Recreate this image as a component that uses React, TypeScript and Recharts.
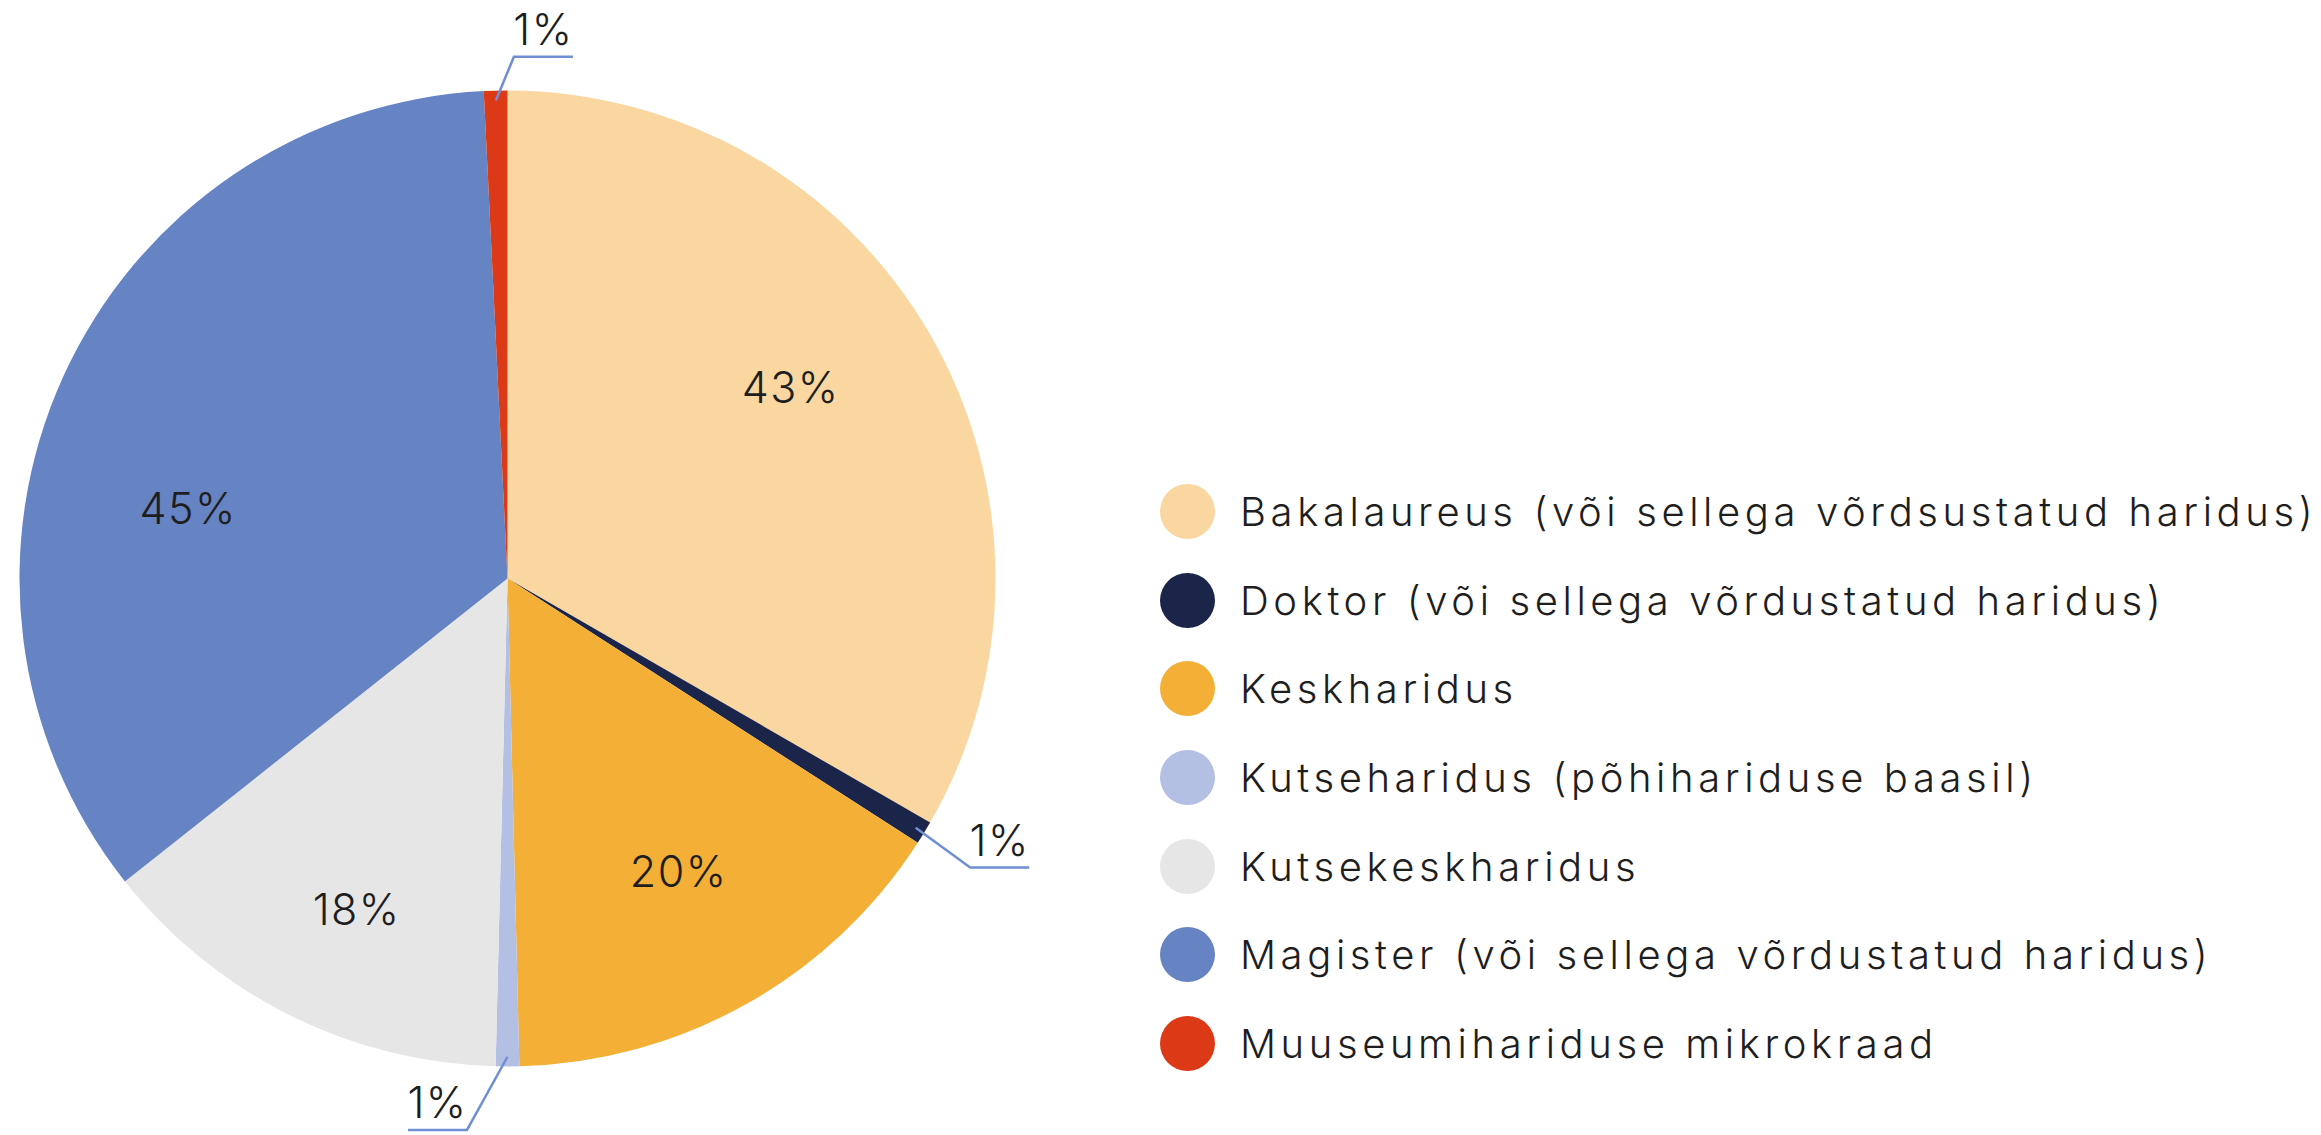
import { PieChart, Pie, Cell, Legend } from 'recharts';

const categories = [
  'Bakalaureus (või sellega võrdsustatud haridus)',
  'Doktor (või sellega võrdustatud haridus)',
  'Keskharidus',
  'Kutseharidus (põhihariduse baasil)',
  'Kutsekeskharidus',
  'Magister (või sellega võrdustatud haridus)',
  'Muuseumihariduse mikrokraad',
];
const shares = [43, 1, 20, 1, 18, 45, 1];
const shareLabels = ['43%', '1%', '20%', '1%', '18%', '45%', '1%'];

const colors = ['#fad6a1', '#1b2449', '#f4af37', '#b3bfe3', '#e6e6e6', '#6683c4', '#dc3916'];

// label placement per slice (turn = clockwise degrees from the slice middle)
const labelLayout: any[] = [
  { r: 0.7, turn: -4 },
  { outer: true, er: 1.118, turn: 0.6, side: 1 },
  { r: 0.695, turn: -1 },
  { outer: true, er: 1.133, turn: 4.2, side: -1 },
  { r: 0.745, turn: -2 },
  { r: 0.67, turn: -12 },
  { outer: true, er: 1.069, turn: 2.1, side: 1 },
];

const data = categories.map((name, i) => ({ name, value: shares[i], label: shareLabels[i] }));

const FONT = 'Inter, "Noto Sans", sans-serif';
const TEXT = '#1e1e1e';
const LEADER = '#6f8fd4';
const RAD = Math.PI / 180;

const renderLabel = (props: any) => {
  const { cx, cy, midAngle, outerRadius, index } = props;
  const lay = labelLayout[index];
  const pt = (r: number, a: number) => ({
    x: cx + r * Math.cos(-a * RAD),
    y: cy + r * Math.sin(-a * RAD),
  });
  if (!lay.outer) {
    const p = pt(outerRadius * lay.r, midAngle - lay.turn);
    return (
      <text x={p.x} y={p.y} textAnchor="middle" dominantBaseline="central"
        fontFamily={FONT} fontWeight={300} fontSize={43} letterSpacing={1.5} fill={TEXT}>
        {shareLabels[index]}
      </text>
    );
  }
  const s = pt(outerRadius * 0.98, midAngle);
  const e = pt(outerRadius * lay.er, midAngle - lay.turn);
  const endX = e.x + lay.side * 59;
  return (
    <g>
      <polyline points={`${s.x},${s.y} ${e.x},${e.y} ${endX},${e.y}`}
        fill="none" stroke={LEADER} strokeWidth={2.5} />
      <text x={(e.x + endX) / 2} y={e.y - 12} textAnchor="middle"
        fontFamily={FONT} fontWeight={300} fontSize={43} letterSpacing={1.5} fill={TEXT}>
        {shareLabels[index]}
      </text>
    </g>
  );
};

const renderLegend = () => (
  <div style={{ fontFamily: FONT }}>
    {categories.map((c, i) => (
      <div key={c} style={{ display: 'flex', alignItems: 'center', height: 88.7 }}>
        <span style={{
          display: 'inline-block', width: 55, height: 55, borderRadius: '50%',
          background: colors[i], marginRight: 25, flexShrink: 0,
        }} />
        <span style={{
          fontSize: 40, fontWeight: 300, color: TEXT, whiteSpace: 'nowrap', letterSpacing: 4.6,
        }}>{c}</span>
      </div>
    ))}
  </div>
);

export default function App() {
  return (
    <div style={{ width: 2321, height: 1135, background: '#fff', position: 'relative' }}>
      <style>{'body{margin:0}'}</style>
      <PieChart width={2321} height={1135} margin={{ top: 0, right: 0, bottom: 0, left: 0 }}>
        <Pie
          data={data}
          dataKey="value"
          nameKey="name"
          cx={507.5}
          cy={578.5}
          outerRadius={488}
          startAngle={90}
          endAngle={-270}
          stroke="none"
          label={renderLabel}
          labelLine={false}
          isAnimationActive={false}
        >
          {data.map((d, i) => (
            <Cell key={d.name} fill={colors[i]} />
          ))}
        </Pie>
        <Legend content={renderLegend} wrapperStyle={{ left: 1160, top: 467, width: 1161 }} />
      </PieChart>
    </div>
  );
}
